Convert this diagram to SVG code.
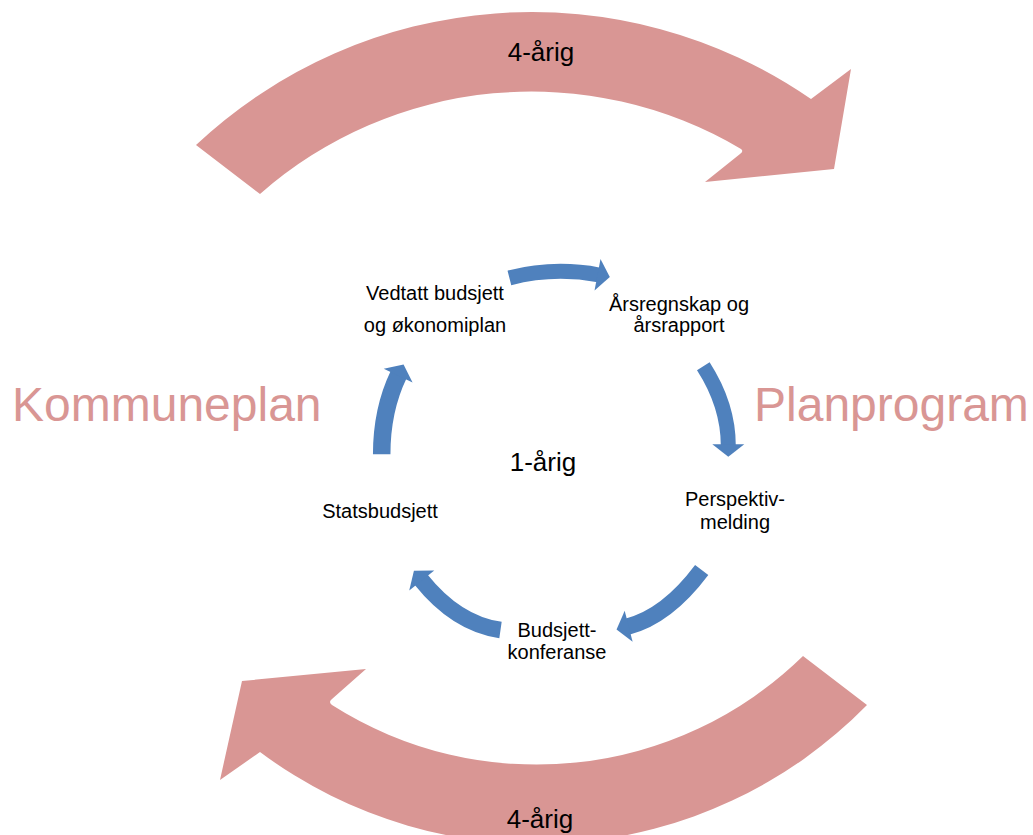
<svg xmlns="http://www.w3.org/2000/svg" width="1033" height="835" viewBox="0 0 1033 835">
  <defs>
    <style>
      .big { fill: #D99694; stroke: none; }
      .lbl { font-family: "Liberation Sans", Arial, sans-serif; font-size: 20px; fill: #000; text-anchor: middle; }
      .per { font-family: "Liberation Sans", Arial, sans-serif; font-size: 26px; fill: #000; text-anchor: middle; }
      .side { font-family: "Liberation Sans", Arial, sans-serif; font-size: 48px; fill: #D99694; }
      .conn { fill: none; stroke: #4F81BD; marker-end: url(#ah); }
    </style>
    <marker id="ah" markerUnits="userSpaceOnUse" viewBox="-2 -17 15 34" refX="0" refY="0" markerWidth="15" markerHeight="34" orient="auto" overflow="visible">
      <path d="M-1.5,-16 L11,0 L-1.5,16 Z" fill="#4F81BD"/>
    </marker>
  </defs>
  <rect width="1033" height="835" fill="#fff"/>

  <g id="big-arrows">
    <path id="top-arrow" class="big" d="M196,145 A491,491 0 0 1 811,99 L851,69 L834,169 L705,182 L740,154 Q744,151 741,149 A411,411 0 0 0 260,194 Z"/>
    <path id="bottom-arrow" class="big" d="M867,705 A462,462 0 0 1 260,752 L220,780 L242,681 L366,669 L332,699 Q328,702 332,705 A381,381 0 0 0 803,656 Z"/>
  </g>

  <g id="period-labels">
    <text class="per" x="541" y="61">4-årig</text>
    <text class="per" x="540" y="828">4-årig</text>
  </g>

  <g id="side-labels">
    <text class="side" x="12" y="421">Kommuneplan</text>
    <text class="side" x="754" y="421">Planprogram</text>
  </g>

  <g id="connectors">
    <path class="conn" stroke-width="15" d="M509.4,277.9 Q554,266.5 599,275"/>
    <path class="conn" stroke-width="15" d="M703.3,366.2 Q728.3,405.1 728.3,445.7"/>
    <path class="conn" stroke-width="16.5" d="M701.7,570 Q666.8,616.6 627.2,626.7"/>
    <path class="conn" stroke-width="16.5" d="M500.5,630 Q456.2,623.6 420.8,579.3"/>
    <path class="conn" stroke-width="17.5" d="M381.7,454.3 Q381.7,409.8 398.8,374.3"/>
  </g>

  <g id="node-vedtatt">
    <text class="lbl" x="435" y="300">Vedtatt budsjett</text>
    <text class="lbl" x="435" y="332">og økonomiplan</text>
  </g>
  <g id="node-arsregnskap">
    <text class="lbl" x="679" y="311">Årsregnskap og</text>
    <text class="lbl" x="679" y="332">årsrapport</text>
  </g>
  <g id="node-perspektiv">
    <text class="lbl" x="735" y="506">Perspektiv-</text>
    <text class="lbl" x="735" y="529">melding</text>
  </g>
  <g id="node-budsjettkonferanse">
    <text class="lbl" x="557" y="637">Budsjett-</text>
    <text class="lbl" x="557" y="659">konferanse</text>
  </g>
  <g id="node-statsbudsjett">
    <text class="lbl" x="380" y="518">Statsbudsjett</text>
  </g>
  <g id="center-label">
    <text class="per" x="543" y="471">1-årig</text>
  </g>
</svg>
